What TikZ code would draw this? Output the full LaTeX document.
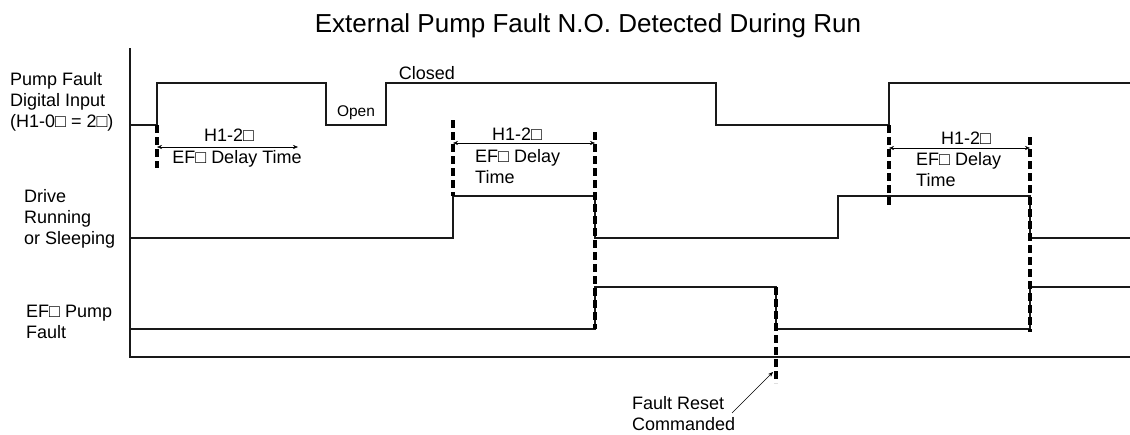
\documentclass[tikz,border=0pt]{standalone}
\usepackage{fontspec}
\setmainfont{Liberation Sans}
\usetikzlibrary{arrows.meta,positioning}

\begin{document}
\begin{tikzpicture}[x=1pt,y=-1pt,>={Stealth[length=5pt,width=4pt]},
  sig/.style={line width=1.2pt,black!90},
  trigline/.style={line width=3.2pt,black,dash pattern=on 8pt off 4pt},
  lbl/.style={font=\fontsize{18}{21}\selectfont,inner sep=0pt,align=left},
  small/.style={font=\fontsize{15.5}{18}\selectfont,inner sep=0pt}]
\useasboundingbox (0,0) rectangle (1130,434);

\node[font=\fontsize{26}{30}\selectfont,inner sep=0pt,anchor=base] (title) at (588,32) {External Pump Fault N.O. Detected During Run};

% row labels
\node[lbl,anchor=west] (inlbl) at (10,102) {Pump Fault\\Digital Input\\(H1-0□ = 2□)};
\node[lbl,anchor=west] (runlbl) at (24,219) {Drive\\Running\\or Sleeping};
\node[lbl,anchor=west] (eflbl) at (26,322) {EF□ Pump\\Fault};

% axes
\draw[sig] (130,48) -- (130,357) -- (1130,357);

% waveforms
\draw[sig] (130,125) -- (157,125) -- (157,83) -- (326,83) -- (326,125) -- (386,125) -- (386,83)
  -- (716,83) -- (716,125) -- (889,125) -- (889,83) -- (1130,83);
\draw[sig] (130,238) -- (453,238) -- (453,196) -- (595,196) -- (595,238) -- (838,238) -- (838,196)
  -- (1030,196) -- (1030,238) -- (1130,238);
\draw[sig] (130,329) -- (595,329) -- (595,287) -- (776,287) -- (776,329) -- (1030,329) -- (1030,287)
  -- (1130,287);

\node[lbl,anchor=center] (closed) at (427,73) {Closed};
\node[small,anchor=center] (open) at (356,113) {Open};

% event markers
\draw[trigline] (157,125) -- (157,168);
\draw[trigline] (453,120) -- (453,196);
\draw[trigline] (595,132) -- (595,329);
\draw[trigline] (776,287) -- (776,383);
\draw[trigline] (889,125) -- (889,207);
\draw[trigline] (1030,137) -- (1030,332);

% delay times
\coordinate (d1a) at (157,147);
\coordinate (d1b) at (298,147);
\coordinate (d2a) at (453,143);
\coordinate (d2b) at (595,143);
\coordinate (d3a) at (889,148);
\coordinate (d3b) at (1030,148);
\draw[<->,thin] (d1a) -- (d1b);
\draw[<->,thin] (d2a) -- (d2b);
\draw[<->,thin] (d3a) -- (d3b);

\node[lbl,anchor=center] (h1) at (229,135) {H1-2□};
\node[lbl,anchor=center] (ef1) at (237,159) {EF□ Delay Time};
\node[lbl,anchor=center] (h2) at (517,134) {H1-2□};
\node[lbl,anchor=west] (ef2) at (475,167) {EF□ Delay\\Time};
\node[lbl,anchor=center] (h3) at (966,138) {H1-2□};
\node[lbl,anchor=west] (ef3) at (916,170) {EF□ Delay\\Time};

% reset
\node[lbl,anchor=west] (reset) at (632,414) {Fault Reset\\Commanded};
\coordinate (rtail) at (732,413);
\coordinate (rhead) at (773,372);
\draw[->,thin] (rtail) -- (rhead);
\end{tikzpicture}
\end{document}
